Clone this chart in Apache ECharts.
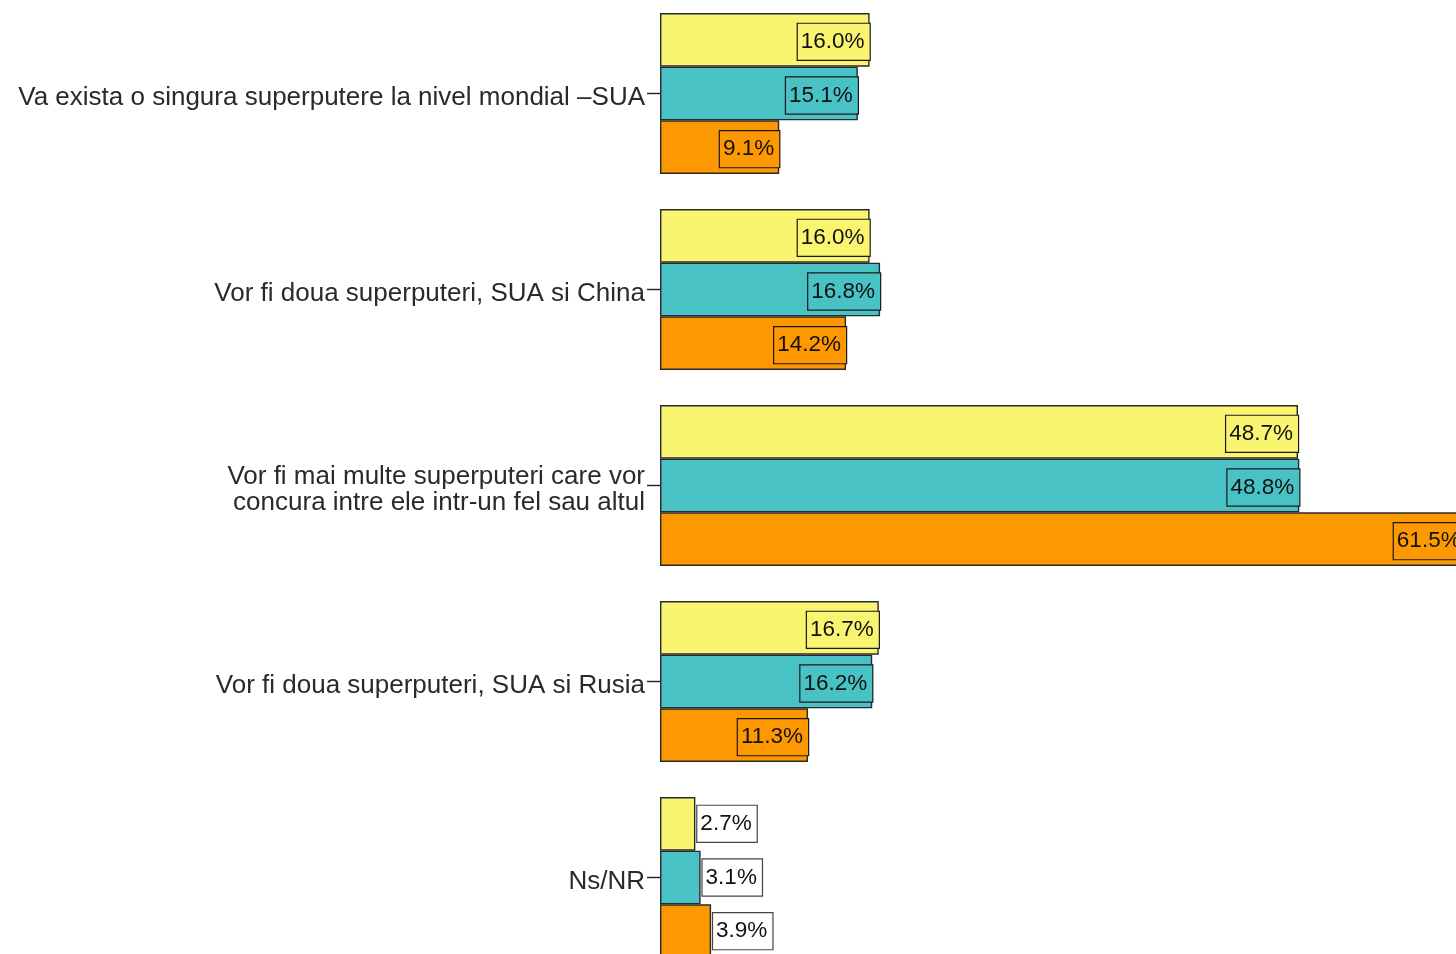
<!DOCTYPE html>
<html>
<head>
<meta charset="utf-8">
<script src="https://cdn.jsdelivr.net/npm/echarts@6/dist/echarts.min.js"></script>
<style>
  html, body { margin: 0; padding: 0; background: #fff; }
  #chart { width: 1456px; height: 954px; }
</style>
</head>
<body>
<div id="chart"></div>
<script>
// categorii (de sus in jos)
var categories = [
  'Va exista o singura superputere la nivel mondial \u2013SUA',
  'Vor fi doua superputeri, SUA si China',
  'Vor fi mai multe superputeri care vor\nconcura intre ele intr-un fel sau altul',
  'Vor fi doua superputeri, SUA si Rusia',
  'Ns/NR'
];
// valori in procente
var yellowValues = [16.0, 16.0, 48.7, 16.7, 2.7];
var tealValues = [15.1, 16.8, 48.8, 16.2, 3.1];
var orangeValues = [9.1, 14.2, 61.5, 11.3, 3.9];

var colors = ['#F9F571', '#48C2C5', '#FE9800'];
var labelFont = 'Liberation Sans, Arial, sans-serif';

function buildData(values, color) {
  return values.map(function (v) {
    var small = v < 5;
    return {
      value: v,
      label: {
        position: small ? 'right' : 'insideRight',
        distance: small ? 2 : 0,
        offset: small ? [0, 0] : [0, 2],
        backgroundColor: small ? '#fff' : color,
        borderColor: small ? '#444' : '#1a1a1a'
      }
    };
  });
}

function makeSeries(name, values, color) {
  return {
    name: name,
    type: 'bar',
    barGap: 0,
    barCategoryGap: '17.9%',
    data: buildData(values, color),
    itemStyle: { color: color, borderColor: '#2a2a2a', borderWidth: 1.4 },
    label: {
      show: true,
      formatter: function (p) { return p.value.toFixed(1) + '%'; },
      fontFamily: labelFont,
      fontSize: 22.5,
      color: '#111',
      borderWidth: 1.2,
      lineHeight: 24,
      padding: [8, 5, 4, 3]
    }
  };
}

var myChart = echarts.init(document.getElementById('chart'));
var option = {
  animation: false,
  grid: { left: 660, top: -4.5, width: 851.5, height: 980, outerBoundsMode: 'none', containLabel: false },
  xAxis: {
    type: 'value',
    min: 0,
    max: 65,
    show: false
  },
  yAxis: {
    type: 'category',
    inverse: true,
    data: categories,
    axisLine: { show: false },
    axisTick: { show: true, length: 13, lineStyle: { color: '#222', width: 1.4 }, alignWithLabel: true },
    axisLabel: {
      margin: 15,
      align: 'right',
      // un rand gol mic deasupra ca textul sa stea putin sub tick, ca in original
      formatter: function (v) {
        return '{s| }\n' + v.split('\n').map(function (l) {
          return '{a|' + l + '}';
        }).join('\n');
      },
      rich: {
        s: { fontSize: 4, lineHeight: 8 },
        a: { fontFamily: labelFont, fontSize: 26, lineHeight: 26, color: '#2a2a2a' }
      }
    },
    splitLine: { show: false }
  },
  series: [
    makeSeries('1', yellowValues, colors[0]),
    makeSeries('2', tealValues, colors[1]),
    makeSeries('3', orangeValues, colors[2])
  ]
};
myChart.setOption(option);
</script>
</body>
</html>
